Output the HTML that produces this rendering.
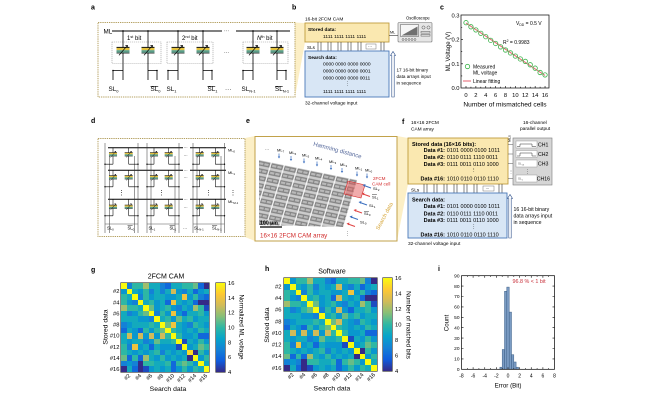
<!DOCTYPE html>
<html><head><meta charset="utf-8"><style>
body{margin:0;width:650px;height:400px;position:relative;background:#fff;overflow:hidden}
svg{position:absolute;left:0;top:0}
.hm{position:absolute;display:grid;grid-template-columns:repeat(16,1fr);grid-template-rows:repeat(16,1fr);box-shadow:0 0 0 .6px #333}
.hm i{display:block}
.a{background:#352a87}.b{background:#1c4bc0}.c{background:#1168db}.d{background:#1481d6}.e{background:#0997ce}.f{background:#13aabd}.g{background:#2eb7a4}.h{background:#69bc86}.i{background:#a0be6d}.j{background:#d1bb59}.k{background:#efc43f}.l{background:#fcd926}.m{background:#f9fb0e}
.cb{position:absolute;box-shadow:0 0 0 .6px #333;background:linear-gradient(to top,#352a87 0%,#0f5cdd 12.5%,#1481d6 25%,#06a4ca 37.5%,#2eb7a4 50%,#87bf77 62.5%,#d1bb59 75%,#fec832 87.5%,#f9fb0e 100%)}
</style></head><body>
<svg xmlns="http://www.w3.org/2000/svg" width="650" height="400" viewBox="0 0 650 400" font-family="'Liberation Sans', Arial, sans-serif">
<defs>
<g id="tr">
<rect x="-6.5" y="-3.6" width="13" height="1" fill="#000"/>
<rect x="-6.5" y="-2.6" width="13" height="2.3" fill="#e4c23e"/>
<rect x="-6.5" y="-0.3" width="13" height="2.6" fill="#5a9d88"/>
<rect x="-6.5" y="2.3" width="13" height=".6" fill="#000"/>
<path d="M-4 4.8L4.5-5.2M4.5-5.2h-2.2M4.5-5.2v2" stroke="#000" stroke-width=".7" fill="none"/>
</g>
<pattern id="chip" patternUnits="userSpaceOnUse" width="1" height="1" patternTransform="matrix(13 2.65 -2.1 7 259 160)">
<rect width="1" height="1" fill="#cccccc"/>
<rect y=".1" width="1" height=".65" fill="#838383"/>
<rect x=".08" y=".27" width=".32" height=".3" fill="#bababa"/>
<rect x=".48" y=".27" width=".32" height=".3" fill="#bababa"/>
<rect x=".9" y="0" width=".1" height="1" fill="#f5f5f5"/>
</pattern>
</defs>

<!-- ===== Panel a ===== -->
<polygon points="295,22.5 305,23 305,42 295,97" fill="#fcefc6"/>
<text x="91" y="9.5" font-size="7" font-weight="bold">a</text>
<rect x="98" y="22.5" width="197" height="74.5" fill="#fff" stroke="#b4a060" stroke-width="1" stroke-dasharray="1.3 0.9"/>
<g fill="none" stroke="#999" stroke-width=".6" stroke-dasharray="1.2 .8">
<rect x="112" y="42" width="49" height="21.5"/><rect x="167" y="42" width="46" height="21.5"/><rect x="243" y="42" width="45" height="21.5"/>
</g>
<g stroke="#000" fill="none" stroke-width=".8">
<path d="M112 31H222M236 31H290" stroke-width="1.1"/>
<path d="M123 31V80M148 31V80M178 31V80M203 31V80M253 31V80M277 31V80"/>
<path d="M113 70.5V80M157 70.5V80M168 70.5V80M212 70.5V80M243 70.5V80M286 70.5V80"/>
<path d="M113 70.5H123M148 70.5H157M168 70.5H178M203 70.5H212M243 70.5H253M277 70.5H286"/>
</g>
<g fill="#000">
<circle cx="123" cy="31" r=".9"/><circle cx="148" cy="31" r=".9"/><circle cx="178" cy="31" r=".9"/><circle cx="203" cy="31" r=".9"/><circle cx="253" cy="31" r=".9"/><circle cx="277" cy="31" r=".9"/>
<circle cx="113" cy="70.5" r=".8"/><circle cx="157" cy="70.5" r=".8"/><circle cx="168" cy="70.5" r=".8"/><circle cx="212" cy="70.5" r=".8"/><circle cx="243" cy="70.5" r=".8"/><circle cx="286" cy="70.5" r=".8"/>
</g>
<use href="#tr" x="123" y="50.5"/><use href="#tr" x="148" y="50.5"/><use href="#tr" x="178" y="50.5"/><use href="#tr" x="203" y="50.5"/><use href="#tr" x="253" y="50.5"/><use href="#tr" x="277" y="50.5"/>
<text x="103.5" y="33.5" font-size="6.3">ML</text>
<text x="224" y="32.5" font-size="5">···</text>
<text x="224" y="54" font-size="5">···</text>
<text x="127" y="39.8" font-size="6">1<tspan font-size="3.8" dy="-2">st</tspan><tspan dy="2"> bit</tspan></text>
<text x="182" y="39.8" font-size="6">2<tspan font-size="3.8" dy="-2">nd</tspan><tspan dy="2"> bit</tspan></text>
<text x="257" y="39.8" font-size="6"><tspan font-style="italic">N</tspan><tspan font-size="3.8" dy="-2">th</tspan><tspan dy="2"> bit</tspan></text>
<g font-size="6.3">
<text x="108.5" y="91">SL<tspan font-size="4" dy="1.3">0</tspan></text>
<text x="150.5" y="91"><tspan text-decoration="overline">SL</tspan><tspan font-size="4" dy="1.3">0</tspan></text>
<text x="166.5" y="91">SL<tspan font-size="4" dy="1.3">1</tspan></text>
<text x="207.5" y="91"><tspan text-decoration="overline">SL</tspan><tspan font-size="4" dy="1.3">1</tspan></text>
<text x="225" y="91">···</text>
<text x="241.5" y="91">SL<tspan font-size="4" dy="1.3">N-1</tspan></text>
<text x="275" y="91"><tspan text-decoration="overline">SL</tspan><tspan font-size="4" dy="1.3">N-1</tspan></text>
</g>

<!-- ===== Panel b ===== -->
<text x="292" y="9.5" font-size="7" font-weight="bold">b</text>
<text x="305" y="20.5" font-size="4.8">16-bit 2FCM CAM</text>
<rect x="305" y="23" width="84" height="19" fill="#fae8b0" stroke="#bf9d3e" stroke-width=".9"/>
<text x="308" y="30.8" font-size="4.8" font-weight="bold">Stored data:</text>
<text x="323" y="38" font-size="4.9">1111 1111 1111 1111</text>
<text x="307" y="48.8" font-size="4.6">SLs</text>
<path d="M318 42V51M321 42V51M328 42V51M331 42V51M338 42V51M341 42V51M348 42V51M351 42V51M358 42V51M361 42V51M381 42V51M384 42V51" stroke="#333" stroke-width=".6"/>
<rect x="366" y="44" width="10" height="5" fill="#fff" stroke="#555" stroke-width=".4"/><text x="368" y="47.8" font-size="4">···</text>
<rect x="305" y="51" width="84" height="46" fill="#d8e6f5" stroke="#4a79b9" stroke-width=".9"/>
<text x="308" y="58.8" font-size="4.8" font-weight="bold">Search data:</text>
<g font-size="4.9">
<text x="323" y="65.5">0000 0000 0000 0000</text>
<text x="323" y="72.5">0000 0000 0000 0001</text>
<text x="323" y="79.5">0000 0000 0000 0011</text>
<text x="345" y="85">⋮</text>
<text x="323" y="93">1111 1111 1111 1111</text>
</g>
<path d="M391.8 97V55.5h-1.3l2.5-4 2.5 4h-1.3V97z" fill="#fff" stroke="#2d4f8a" stroke-width=".6"/>
<g font-size="4.6"><text x="396.5" y="71.5">17 16-bit binary</text><text x="396.5" y="78">data arrays input</text><text x="396.5" y="84.5">in sequence</text></g>
<text x="305" y="104.5" font-size="4.8">32-channel voltage input</text>
<text x="406" y="19.5" font-size="4.2">Oscilloscope</text>
<rect x="398" y="22.5" width="34" height="19.5" rx="1" fill="#e6e6e6" stroke="#6d6d6d" stroke-width=".6"/>
<rect x="400.5" y="24.5" width="18" height="12" fill="#f6f6f6" stroke="#555" stroke-width=".5"/>
<polygon points="401.5,35.5 417.5,35.5 417.5,26.5" fill="#707070"/>
<g fill="none" stroke="#555" stroke-width=".5">
<circle cx="423.5" cy="27.5" r="1.6"/><circle cx="428.5" cy="27.5" r="1.6"/>
<rect x="421" y="31.5" width="9" height="1.6"/><rect x="421" y="34.5" width="9" height="1.6"/>
<circle cx="403" cy="39.5" r="1"/><circle cx="406" cy="39.5" r="1"/><circle cx="409" cy="39.5" r="1"/><circle cx="412" cy="39.5" r="1"/><circle cx="415" cy="39.5" r="1"/>
</g>
<text x="390" y="33.5" font-size="3.8">ML</text>
<path d="M389 35.5H398" stroke="#333" stroke-width=".6"/>

<!-- ===== Panel c ===== -->
<text x="440" y="9.5" font-size="7" font-weight="bold">c</text>
<rect x="461" y="15" width="88" height="73" fill="none" stroke="#000" stroke-width=".7"/>
<path d="M466 88v-2M475.88 88v-2M485.76 88v-2M495.64 88v-2M505.52 88v-2M515.4 88v-2M525.28 88v-2M535.16 88v-2M545.04 88v-2M470.94 88v-1.2M480.82 88v-1.2M490.7 88v-1.2M500.58 88v-1.2M510.46 88v-1.2M520.34 88v-1.2M530.22 88v-1.2M540.1 88v-1.2M461 63.8h2M461 39.6h2M461 75.9h1.2M461 51.7h1.2M461 27.5h1.2" stroke="#000" stroke-width=".6"/>
<g font-size="5.8" text-anchor="end"><text x="459.5" y="17.5">0.3</text><text x="459.5" y="41.6">0.2</text><text x="459.5" y="65.8">0.1</text><text x="459.5" y="90">0.0</text></g>
<g font-size="5.8" text-anchor="middle"><text x="466" y="96.8">0</text><text x="475.88" y="96.8">2</text><text x="485.76" y="96.8">4</text><text x="495.64" y="96.8">6</text><text x="505.52" y="96.8">8</text><text x="515.4" y="96.8">10</text><text x="525.28" y="96.8">12</text><text x="535.16" y="96.8">14</text><text x="545.04" y="96.8">16</text></g>
<text x="505" y="106.5" font-size="6.6" text-anchor="middle">Number of mismatched cells</text>
<text transform="translate(450,51.5) rotate(-90)" font-size="6" text-anchor="middle">ML Voltage (V)</text>
<text x="516" y="25" font-size="5">V<tspan font-size="3.4" dy="1.2">DD</tspan><tspan dy="-1.2"> = 0.5 V</tspan></text>
<text x="503" y="44" font-size="5">R<tspan font-size="3.4" dy="-1.8">2</tspan><tspan dy="1.8"> = 0.9983</tspan></text>
<line x1="466" y1="23.1" x2="545" y2="75.4" stroke="#e8707c" stroke-width="1.1"/>
<g fill="none" stroke="#3cb44b" stroke-width=".8">
<circle cx="466" cy="22.66" r="2.2"/><circle cx="470.94" cy="26.77" r="2.2"/><circle cx="475.88" cy="29.92" r="2.2"/><circle cx="480.82" cy="33.31" r="2.2"/><circle cx="485.76" cy="36.7" r="2.2"/><circle cx="490.7" cy="40.33" r="2.2"/><circle cx="495.64" cy="43.47" r="2.2"/><circle cx="500.58" cy="46.86" r="2.2"/><circle cx="505.52" cy="50.01" r="2.2"/><circle cx="510.46" cy="52.91" r="2.2"/><circle cx="515.4" cy="56.06" r="2.2"/><circle cx="520.34" cy="58.96" r="2.2"/><circle cx="525.28" cy="61.38" r="2.2"/><circle cx="530.22" cy="64.77" r="2.2"/><circle cx="535.16" cy="68.16" r="2.2"/><circle cx="540.1" cy="72.51" r="2.2"/><circle cx="545.04" cy="74.93" r="2.2"/>
<circle cx="467.5" cy="66.5" r="2.2"/>
</g>
<line x1="463" y1="81" x2="471" y2="81" stroke="#e8707c" stroke-width="1.1"/>
<g font-size="5"><text x="473" y="68.3">Measured</text><text x="473" y="74.3">ML voltage</text><text x="473" y="82.8">Linear fitting</text></g>

<!-- ===== Panel d ===== -->
<polygon points="245,138 255,136 255,241 245,237" fill="#fcefc6"/>
<text x="91" y="123" font-size="7" font-weight="bold">d</text>
<rect x="98" y="138.5" width="147" height="98" fill="#fff" stroke="#b4a060" stroke-width="1" stroke-dasharray="1.3 .9"/>
<g stroke="#000" fill="none">
<path d="M108 147.7H183M190 147.7H226M108 170.3H183M190 170.3H226M108 199.3H183M190 199.3H226" stroke-width="1"/>
<path d="M105 143V233M109.5 156V233M134.5 156V233M138 143V233M147 143V233M151 156V233M175 156V233M179 143V233M193 143V233M197 156V233M221 156V233M224.5 143V233" stroke-width=".5" stroke="#333"/>
<path d="M113 147.7v16.5M128.7 147.7v16.5M154 147.7v16.5M168.7 147.7v16.5M199.7 147.7v16.5M215.3 147.7v16.5M113 170.3v16.5M128.7 170.3v16.5M154 170.3v16.5M168.7 170.3v16.5M199.7 170.3v16.5M215.3 170.3v16.5M113 199.3v16.5M128.7 199.3v16.5M154 199.3v16.5M168.7 199.3v16.5M199.7 199.3v16.5M215.3 199.3v16.5" stroke-width=".55"/>
<path d="M105 164.2H113M128.7 164.2H138M147 164.2H154M168.7 164.2H179M193 164.2H199.7M215.3 164.2H224.5M105 186.8H113M128.7 186.8H138M147 186.8H154M168.7 186.8H179M193 186.8H199.7M215.3 186.8H224.5M105 215.8H113M128.7 215.8H138M147 215.8H154M168.7 215.8H179M193 215.8H199.7M215.3 215.8H224.5" stroke-width=".55"/>
<path d="M105 224H138M147 224H179M193 224H224.5" stroke-width=".5" stroke="#555"/>
</g>
<g fill="#000">
<circle cx="105" cy="164.2" r=".7"/><circle cx="138" cy="164.2" r=".7"/><circle cx="147" cy="164.2" r=".7"/><circle cx="179" cy="164.2" r=".7"/><circle cx="193" cy="164.2" r=".7"/><circle cx="224.5" cy="164.2" r=".7"/>
<circle cx="105" cy="186.8" r=".7"/><circle cx="138" cy="186.8" r=".7"/><circle cx="147" cy="186.8" r=".7"/><circle cx="179" cy="186.8" r=".7"/><circle cx="193" cy="186.8" r=".7"/><circle cx="224.5" cy="186.8" r=".7"/>
<circle cx="105" cy="215.8" r=".7"/><circle cx="138" cy="215.8" r=".7"/><circle cx="147" cy="215.8" r=".7"/><circle cx="179" cy="215.8" r=".7"/><circle cx="193" cy="215.8" r=".7"/><circle cx="224.5" cy="215.8" r=".7"/>
</g>
<g transform="translate(113,154.5) scale(.62)"><use href="#tr"/></g><g transform="translate(128.7,154.5) scale(.62)"><use href="#tr"/></g>
<g transform="translate(154,154.5) scale(.62)"><use href="#tr"/></g><g transform="translate(168.7,154.5) scale(.62)"><use href="#tr"/></g>
<g transform="translate(199.7,154.5) scale(.62)"><use href="#tr"/></g><g transform="translate(215.3,154.5) scale(.62)"><use href="#tr"/></g>
<g transform="translate(113,177.5) scale(.62)"><use href="#tr"/></g><g transform="translate(128.7,177.5) scale(.62)"><use href="#tr"/></g>
<g transform="translate(154,177.5) scale(.62)"><use href="#tr"/></g><g transform="translate(168.7,177.5) scale(.62)"><use href="#tr"/></g>
<g transform="translate(199.7,177.5) scale(.62)"><use href="#tr"/></g><g transform="translate(215.3,177.5) scale(.62)"><use href="#tr"/></g>
<g transform="translate(113,207) scale(.62)"><use href="#tr"/></g><g transform="translate(128.7,207) scale(.62)"><use href="#tr"/></g>
<g transform="translate(154,207) scale(.62)"><use href="#tr"/></g><g transform="translate(168.7,207) scale(.62)"><use href="#tr"/></g>
<g transform="translate(199.7,207) scale(.62)"><use href="#tr"/></g><g transform="translate(215.3,207) scale(.62)"><use href="#tr"/></g>
<g font-size="4.2"><text x="183.5" y="149">···</text><text x="183.5" y="171.6">···</text><text x="183.5" y="200.6">···</text><text x="183.5" y="156.5">···</text><text x="183.5" y="179">···</text><text x="183.5" y="208.5">···</text></g>
<g font-size="3.9"><text x="228" y="151.5">ML<tspan font-size="2.8" dy="1">0</tspan></text><text x="228" y="174">ML<tspan font-size="2.8" dy="1">1</tspan></text><text x="228" y="203">ML<tspan font-size="2.8" dy="1">M-1</tspan></text></g>
<g font-size="6"><text x="118.5" y="194.5">⋮</text><text x="158.5" y="194.5">⋮</text><text x="205.5" y="194.5">⋮</text><text x="230" y="194.5">⋮</text></g>
<g font-size="4.2">
<text x="107" y="229.5">SL<tspan font-size="2.9" dy="1">0</tspan></text>
<text x="127.5" y="229.5"><tspan text-decoration="overline">SL</tspan><tspan font-size="2.9" dy="1">0</tspan></text>
<text x="148.5" y="229.5">SL<tspan font-size="2.9" dy="1">1</tspan></text>
<text x="169.5" y="229.5"><tspan text-decoration="overline">SL</tspan><tspan font-size="2.9" dy="1">1</tspan></text>
<text x="183" y="229.5">···</text>
<text x="194" y="229.5">SL<tspan font-size="2.9" dy="1">N-1</tspan></text>
<text x="212" y="229.5"><tspan text-decoration="overline">SL</tspan><tspan font-size="2.9" dy="1">N-1</tspan></text>
</g>

<!-- ===== Panel e ===== -->
<polygon points="397,136 408,138 408,184 397,241" fill="#fcefc6"/>
<text x="246" y="123" font-size="7" font-weight="bold">e</text>
<rect x="255" y="136.5" width="142" height="104.5" fill="#fff" stroke="#c2a24a" stroke-width="1"/>
<polygon points="259,160 357,180 343,227 259,225" fill="url(#chip)"/>
<polygon points="348,181 365,185 361,198 344,194" fill="#e45858" fill-opacity=".5" stroke="#d42c2c" stroke-width=".6"/>
<text transform="translate(337,152) rotate(15)" font-size="6" fill="#56699c" text-anchor="middle">Hamming distance</text>
<g font-size="4">
<text x="265" y="151">···</text>
<text x="277" y="151.5">ML<tspan font-size="2.8" dy="1">7</tspan></text>
<text x="289" y="154">ML<tspan font-size="2.8" dy="1">6</tspan></text>
<text x="302" y="156.5">ML<tspan font-size="2.8" dy="1">5</tspan></text>
<text x="315" y="159.5">ML<tspan font-size="2.8" dy="1">4</tspan></text>
<text x="329" y="163">ML<tspan font-size="2.8" dy="1">3</tspan></text>
<text x="340" y="166">ML<tspan font-size="2.8" dy="1">2</tspan></text>
<text x="355" y="169.5">ML<tspan font-size="2.8" dy="1">1</tspan></text>
<text x="365" y="171.5">ML<tspan font-size="2.8" dy="1">0</tspan></text>
</g>
<g stroke="#3b6fc0" stroke-width=".7">
<path d="M279 153.5v3.5M291 156v3.5M304 158.5v3.5M317 161.5v3.5M331 165v3.5M342 168v3.5M357 171.5v3.5M367 173.5v3.5"/>
</g>
<g fill="#3b6fc0">
<polygon points="277.8,156.5 280.2,156.5 279,158.5"/><polygon points="289.8,159 292.2,159 291,161"/><polygon points="302.8,161.5 305.2,161.5 304,163.5"/><polygon points="315.8,164.5 318.2,164.5 317,166.5"/><polygon points="329.8,168 332.2,168 331,170"/><polygon points="340.8,171 343.2,171 342,173"/><polygon points="355.8,174.5 358.2,174.5 357,176.5"/><polygon points="365.8,176.5 368.2,176.5 367,178.5"/>
</g>
<g stroke-width="1">
<path d="M371 188L364 185.5" stroke="#3b6fc0"/><path d="M370 196.5L363 194" stroke="#e04444"/><path d="M367 205L360 202.5" stroke="#3b6fc0"/><path d="M362 213L355 210.5" stroke="#e04444"/><path d="M358 219.5L351 217" stroke="#3b6fc0"/><path d="M355 226.5L348 224" stroke="#e04444"/>
</g>
<g>
<polygon points="362.5,185 365.5,184 364.7,186.8" fill="#3b6fc0"/><polygon points="361.5,193.5 364.5,192.5 363.7,195.3" fill="#e04444"/><polygon points="358.5,202 361.5,201 360.7,203.8" fill="#3b6fc0"/><polygon points="353.5,210 356.5,209 355.7,211.8" fill="#e04444"/><polygon points="349.5,216.5 352.5,215.5 351.7,218.3" fill="#3b6fc0"/><polygon points="346.5,223.5 349.5,222.5 348.7,225.3" fill="#e04444"/>
</g>
<g font-size="4">
<text x="373" y="190">SL<tspan font-size="2.8" dy="1">2</tspan></text>
<text x="372" y="198.5"><tspan text-decoration="overline">SL</tspan><tspan font-size="2.8" dy="1">1</tspan></text>
<text x="369" y="207"><tspan>SL</tspan><tspan font-size="2.8" dy="1">1</tspan></text>
<text x="364" y="215"><tspan text-decoration="overline">SL</tspan><tspan font-size="2.8" dy="1">0</tspan></text>
<text x="360" y="223.5">SL<tspan font-size="2.8" dy="1">0</tspan></text>
</g>
<text x="373" y="180" font-size="4.6" fill="#d42c2c">2FCM</text>
<text x="372" y="185.7" font-size="4.6" fill="#d42c2c">CAM cell</text>
<text transform="translate(386,217) rotate(-62)" font-size="5.6" fill="#d6a536" text-anchor="middle">Search data</text>
<text x="345" y="235" font-size="5">⋮</text>
<text x="260" y="224.5" font-size="5.2" font-weight="bold">100 μm</text>
<path d="M260 227H282" stroke="#000" stroke-width="1.3"/>
<text x="260" y="237.5" font-size="6.2" fill="#d02a2a">16×16 2FCM CAM array</text>

<!-- ===== Panel f ===== -->
<text x="402" y="124" font-size="7" font-weight="bold">f</text>
<text x="411" y="124" font-size="4.8">16×16 2FCM</text>
<text x="411" y="130.5" font-size="4.8">CAM array</text>
<text x="523" y="124" font-size="4.8">16-channel</text>
<text x="520" y="130" font-size="4.8">parallel output</text>
<text transform="translate(510.5,142) rotate(-90)" font-size="3.6">MLs</text>
<rect x="408" y="138" width="100" height="46" fill="#fae8b0" stroke="#bf9d3e" stroke-width=".9"/>
<text x="412" y="145.8" font-size="5.5" font-weight="bold">Stored data (16×16 bits):</text>
<g font-size="5.5">
<text x="445" y="152.2" text-anchor="end" font-weight="bold">Data #1:</text><text x="446.8" y="152.2">0101 0000 0100 1011</text>
<text x="445" y="158.9" text-anchor="end" font-weight="bold">Data #2:</text><text x="446.8" y="158.9">0110 0111 1110 0011</text>
<text x="445" y="166" text-anchor="end" font-weight="bold">Data #3:</text><text x="446.8" y="166">0111 0011 0110 1000</text>
<text x="471" y="172">⋮</text>
<text x="445" y="180.5" text-anchor="end" font-weight="bold">Data #16:</text><text x="446.8" y="180.5">1010 0110 0110 1110</text>
</g>
<path d="M508 144.5H516M508 154H516M508 163.5H516M508 178.5H516" stroke="#555" stroke-width=".6"/>
<rect x="513" y="138" width="39" height="47" fill="#d6d6d6" stroke="#7a7a7a" stroke-width=".6"/>
<g fill="#fff" stroke="#888" stroke-width=".4">
<rect x="516" y="141" width="21" height="7"/><rect x="516" y="150.5" width="21" height="7"/><rect x="516" y="160" width="21" height="7"/><rect x="516" y="175" width="21" height="7"/>
</g>
<path d="M517 146.5h3v-2.5h12v2.5h4M517 156h3v-3h12v3h4" stroke="#333" stroke-width=".5" fill="none"/>
<g font-size="3" fill="#555"><text x="518" y="164.5">SL<tspan font-size="2.2" dy=".8">13</tspan></text><text x="518" y="179.5">SL<tspan font-size="2.2" dy=".8">1</tspan></text></g>
<g font-size="5.2"><text x="538" y="146.5">CH1</text><text x="538" y="156">CH2</text><text x="538" y="165.5">CH3</text><text x="536.8" y="180.7">CH16</text><text x="525" y="173">⋮</text></g>
<text x="509" y="173" font-size="4">⋮</text>
<text x="411" y="191.3" font-size="4.8">SLs</text>
<path d="M424 184V193M427 184V193M434 184V193M437 184V193M444 184V193M447 184V193M454 184V193M457 184V193M464 184V193M467 184V193M474 184V193M477 184V193M499 184V193M502 184V193" stroke="#333" stroke-width=".6"/>
<rect x="483" y="186" width="11" height="5" fill="#fff" stroke="#555" stroke-width=".4"/><text x="485.5" y="189.8" font-size="4">···</text>
<rect x="408" y="193" width="99" height="45" fill="#d8e6f5" stroke="#4a79b9" stroke-width=".9"/>
<text x="412" y="201.5" font-size="5.5" font-weight="bold">Search data:</text>
<g font-size="5.5">
<text x="445" y="208.2" text-anchor="end" font-weight="bold">Data #1:</text><text x="446.8" y="208.2">0101 0000 0100 1011</text>
<text x="445" y="215.3" text-anchor="end" font-weight="bold">Data #2:</text><text x="446.8" y="215.3">0110 0111 1110 0011</text>
<text x="445" y="222" text-anchor="end" font-weight="bold">Data #3:</text><text x="446.8" y="222">0111 0011 0110 1000</text>
<text x="471" y="228.3">⋮</text>
<text x="445" y="236.3" text-anchor="end" font-weight="bold">Data #16:</text><text x="446.8" y="236.3">1010 0110 0110 1110</text>
</g>
<path d="M508.8 238V198.5h-1.3l2.5-4 2.5 4h-1.3V238z" fill="#fff" stroke="#2d4f8a" stroke-width=".6"/>
<g font-size="5.2"><text x="513.5" y="211">16 16-bit binary</text><text x="513.5" y="217.5">data arrays input</text><text x="513.5" y="224">in sequence</text></g>
<text x="408" y="245" font-size="4.8">32-channel voltage input</text>

<!-- ===== Panel g ===== -->
<text x="91" y="272" font-size="7" font-weight="bold">g</text>
<text x="166" y="278.5" font-size="7" text-anchor="middle">2FCM CAM</text>
<g font-size="5.8" text-anchor="end">
<text x="119.5" y="293.1">#2</text><text x="119.5" y="304.3">#4</text><text x="119.5" y="315.4">#6</text><text x="119.5" y="326.5">#8</text><text x="119.5" y="337.7">#10</text><text x="119.5" y="348.8">#12</text><text x="119.5" y="360">#14</text><text x="119.5" y="371.1">#16</text>
</g>
<g font-size="5.6" text-anchor="end">
<text transform="translate(130.7,376) rotate(-45)">#2</text><text transform="translate(141.7,376) rotate(-45)">#4</text><text transform="translate(152.7,376) rotate(-45)">#6</text><text transform="translate(163.7,376) rotate(-45)">#8</text><text transform="translate(174.7,376) rotate(-45)">#10</text><text transform="translate(185.7,376) rotate(-45)">#12</text><text transform="translate(196.7,376) rotate(-45)">#14</text><text transform="translate(207.7,376) rotate(-45)">#16</text>
</g>
<text x="168" y="391" font-size="6.8" text-anchor="middle">Search data</text>
<text transform="translate(107.5,327) rotate(-90)" font-size="6.8" text-anchor="middle">Stored data</text>
<g font-size="5.8"><text x="228" y="285">16</text><text x="228" y="299.8">14</text><text x="228" y="314.7">12</text><text x="228" y="329.5">10</text><text x="228" y="344.3">8</text><text x="228" y="359.2">6</text><text x="228" y="374">4</text></g>
<text transform="translate(239.5,327) rotate(90)" font-size="6.4" text-anchor="middle">Normalized ML voltage</text>

<!-- ===== Panel h ===== -->
<text x="265" y="271" font-size="7" font-weight="bold">h</text>
<text x="332" y="273.5" font-size="7" text-anchor="middle">Software</text>
<g font-size="5.8" text-anchor="end">
<text x="281.5" y="288.5">#2</text><text x="281.5" y="300.1">#4</text><text x="281.5" y="311.7">#6</text><text x="281.5" y="323.4">#8</text><text x="281.5" y="335">#10</text><text x="281.5" y="346.6">#12</text><text x="281.5" y="358.2">#14</text><text x="281.5" y="369.9">#16</text>
</g>
<g font-size="5.6" text-anchor="end">
<text transform="translate(294.2,375) rotate(-45)">#2</text><text transform="translate(305.8,375) rotate(-45)">#4</text><text transform="translate(317.4,375) rotate(-45)">#6</text><text transform="translate(329.1,375) rotate(-45)">#8</text><text transform="translate(340.7,375) rotate(-45)">#10</text><text transform="translate(352.3,375) rotate(-45)">#12</text><text transform="translate(363.9,375) rotate(-45)">#14</text><text transform="translate(375.6,375) rotate(-45)">#16</text>
</g>
<text x="332" y="390.5" font-size="6.8" text-anchor="middle">Search data</text>
<text transform="translate(269,325) rotate(-90)" font-size="6.8" text-anchor="middle">Stored data</text>
<g font-size="5.8"><text x="395" y="280">16</text><text x="395" y="295.5">14</text><text x="395" y="311">12</text><text x="395" y="326.5">10</text><text x="395" y="342">8</text><text x="395" y="357.5">6</text><text x="395" y="373">4</text></g>
<text transform="translate(406.5,325) rotate(90)" font-size="6.4" text-anchor="middle">Number of matched bits</text>

<!-- ===== Panel i ===== -->
<text x="438" y="271" font-size="7" font-weight="bold">i</text>
<g fill="#7b9cc4" stroke="#3d5f86" stroke-width=".5">
<rect x="499.9" y="367.2" width="2.3" height="2.1"/>
<rect x="502.2" y="349.5" width="2.3" height="19.8"/>
<rect x="504.5" y="291.3" width="2.3" height="78"/>
<rect x="506.8" y="287.1" width="2.4" height="82.2"/>
<rect x="509.2" y="312.1" width="2.3" height="57.2"/>
<rect x="511.5" y="354.7" width="2.3" height="14.6"/>
<rect x="513.8" y="362" width="2.3" height="7.3"/>
<rect x="516.1" y="367.2" width="2.4" height="2.1"/>
</g>
<rect x="461.5" y="275.7" width="93" height="93.6" fill="none" stroke="#000" stroke-width=".7"/>
<path d="M473.1 369.3v-2M484.75 369.3v-2M496.4 369.3v-2M508 369.3v-2M519.6 369.3v-2M531.25 369.3v-2M542.9 369.3v-2M467.3 369.3v-1.2M478.9 369.3v-1.2M490.6 369.3v-1.2M502.2 369.3v-1.2M513.8 369.3v-1.2M525.4 369.3v-1.2M537.1 369.3v-1.2M548.7 369.3v-1.2M473.1 275.7v2M484.75 275.7v2M496.4 275.7v2M508 275.7v2M519.6 275.7v2M531.25 275.7v2M542.9 275.7v2M467.3 275.7v1.2M478.9 275.7v1.2M490.6 275.7v1.2M502.2 275.7v1.2M513.8 275.7v1.2M525.4 275.7v1.2M537.1 275.7v1.2M548.7 275.7v1.2M461.5 358.9h2M461.5 348.5h2M461.5 338.1h2M461.5 327.7h2M461.5 317.3h2M461.5 306.9h2M461.5 296.5h2M461.5 286.1h2M554.5 358.9h-2M554.5 348.5h-2M554.5 338.1h-2M554.5 327.7h-2M554.5 317.3h-2M554.5 306.9h-2M554.5 296.5h-2M554.5 286.1h-2" stroke="#000" stroke-width=".6"/>
<g font-size="4.8" text-anchor="end"><text x="459.5" y="371">0</text><text x="459.5" y="360.6">10</text><text x="459.5" y="350.2">20</text><text x="459.5" y="339.8">30</text><text x="459.5" y="329.4">40</text><text x="459.5" y="319">50</text><text x="459.5" y="308.6">60</text><text x="459.5" y="298.2">70</text><text x="459.5" y="287.8">80</text><text x="459.5" y="277.4">90</text></g>
<g font-size="5" text-anchor="middle"><text x="461.5" y="377.5">-8</text><text x="473.1" y="377.5">-6</text><text x="484.75" y="377.5">-4</text><text x="496.4" y="377.5">-2</text><text x="508" y="377.5">0</text><text x="519.6" y="377.5">2</text><text x="531.25" y="377.5">4</text><text x="542.9" y="377.5">6</text><text x="554.5" y="377.5">8</text></g>
<text x="508" y="387.5" font-size="6.2" text-anchor="middle">Error (Bit)</text>
<text transform="translate(448.5,323) rotate(-90)" font-size="6.2" text-anchor="middle">Count</text>
<text x="512.5" y="282.8" font-size="5.4" fill="#c8303a">96.8 % &lt; 1 bit</text>
</svg>

<div class="hm" style="left:121px;top:283px;width:88px;height:89px">
<i class=m></i><i class=d></i><i class=g></i><i class=g></i><i class=i></i><i class=f></i><i class=f></i><i class=d></i><i class=c></i><i class=f></i><i class=f></i><i class=g></i><i class=g></i><i class=h></i><i class=c></i><i class=a></i>
<i class=e></i><i class=m></i><i class=f></i><i class=e></i><i class=g></i><i class=d></i><i class=f></i><i class=d></i><i class=f></i><i class=j></i><i class=e></i><i class=d></i><i class=f></i><i class=c></i><i class=e></i><i class=f></i>
<i class=g></i><i class=f></i><i class=m></i><i class=d></i><i class=g></i><i class=e></i><i class=f></i><i class=f></i><i class=e></i><i class=e></i><i class=f></i><i class=k></i><i class=e></i><i class=g></i><i class=d></i><i class=c></i>
<i class=g></i><i class=e></i><i class=d></i><i class=m></i><i class=f></i><i class=g></i><i class=e></i><i class=f></i><i class=c></i><i class=k></i><i class=f></i><i class=e></i><i class=f></i><i class=c></i><i class=a></i><i class=a></i>
<i class=i></i><i class=g></i><i class=g></i><i class=f></i><i class=m></i><i class=h></i><i class=e></i><i class=f></i><i class=g></i><i class=e></i><i class=d></i><i class=f></i><i class=e></i><i class=i></i><i class=g></i><i class=b></i>
<i class=f></i><i class=d></i><i class=e></i><i class=g></i><i class=h></i><i class=m></i><i class=d></i><i class=g></i><i class=e></i><i class=k></i><i class=e></i><i class=c></i><i class=f></i><i class=f></i><i class=g></i><i class=e></i>
<i class=f></i><i class=f></i><i class=f></i><i class=e></i><i class=e></i><i class=d></i><i class=m></i><i class=f></i><i class=g></i><i class=e></i><i class=h></i><i class=f></i><i class=g></i><i class=e></i><i class=f></i><i class=f></i>
<i class=d></i><i class=e></i><i class=f></i><i class=f></i><i class=f></i><i class=g></i><i class=f></i><i class=m></i><i class=h></i><i class=k></i><i class=f></i><i class=e></i><i class=d></i><i class=g></i><i class=f></i><i class=e></i>
<i class=c></i><i class=f></i><i class=e></i><i class=c></i><i class=g></i><i class=e></i><i class=g></i><i class=h></i><i class=m></i><i class=g></i><i class=f></i><i class=e></i><i class=f></i><i class=e></i><i class=g></i><i class=f></i>
<i class=f></i><i class=j></i><i class=e></i><i class=j></i><i class=e></i><i class=j></i><i class=e></i><i class=j></i><i class=g></i><i class=m></i><i class=g></i><i class=e></i><i class=e></i><i class=f></i><i class=c></i><i class=c></i>
<i class=f></i><i class=e></i><i class=f></i><i class=f></i><i class=d></i><i class=e></i><i class=h></i><i class=f></i><i class=f></i><i class=g></i><i class=m></i><i class=b></i><i class=f></i><i class=e></i><i class=g></i><i class=e></i>
<i class=g></i><i class=d></i><i class=k></i><i class=e></i><i class=f></i><i class=c></i><i class=f></i><i class=e></i><i class=e></i><i class=e></i><i class=b></i><i class=m></i><i class=e></i><i class=f></i><i class=h></i><i class=g></i>
<i class=g></i><i class=f></i><i class=e></i><i class=f></i><i class=e></i><i class=f></i><i class=g></i><i class=d></i><i class=f></i><i class=e></i><i class=f></i><i class=e></i><i class=l></i><i class=a></i><i class=g></i><i class=e></i>
<i class=h></i><i class=c></i><i class=g></i><i class=c></i><i class=i></i><i class=f></i><i class=e></i><i class=g></i><i class=e></i><i class=f></i><i class=e></i><i class=f></i><i class=a></i><i class=m></i><i class=e></i><i class=g></i>
<i class=d></i><i class=e></i><i class=d></i><i class=a></i><i class=g></i><i class=g></i><i class=f></i><i class=f></i><i class=g></i><i class=c></i><i class=g></i><i class=h></i><i class=g></i><i class=e></i><i class=m></i><i class=f></i>
<i class=a></i><i class=f></i><i class=c></i><i class=a></i><i class=b></i><i class=e></i><i class=f></i><i class=e></i><i class=f></i><i class=c></i><i class=e></i><i class=g></i><i class=e></i><i class=g></i><i class=f></i><i class=m></i>
</div>
<div class="cb" style="left:216px;top:283px;width:9px;height:89px"></div>

<div class="hm" style="left:284px;top:278px;width:93px;height:93px">
<i class=m></i><i class=e></i><i class=g></i><i class=g></i><i class=i></i><i class=f></i><i class=f></i><i class=d></i><i class=c></i><i class=f></i><i class=f></i><i class=g></i><i class=g></i><i class=h></i><i class=d></i><i class=a></i>
<i class=e></i><i class=m></i><i class=f></i><i class=e></i><i class=g></i><i class=d></i><i class=f></i><i class=e></i><i class=f></i><i class=j></i><i class=e></i><i class=d></i><i class=f></i><i class=c></i><i class=e></i><i class=f></i>
<i class=g></i><i class=f></i><i class=m></i><i class=d></i><i class=g></i><i class=e></i><i class=f></i><i class=f></i><i class=e></i><i class=e></i><i class=f></i><i class=k></i><i class=e></i><i class=g></i><i class=d></i><i class=c></i>
<i class=g></i><i class=e></i><i class=d></i><i class=m></i><i class=f></i><i class=g></i><i class=e></i><i class=f></i><i class=c></i><i class=j></i><i class=f></i><i class=e></i><i class=f></i><i class=c></i><i class=a></i><i class=a></i>
<i class=i></i><i class=g></i><i class=g></i><i class=f></i><i class=m></i><i class=h></i><i class=e></i><i class=f></i><i class=g></i><i class=e></i><i class=d></i><i class=f></i><i class=e></i><i class=i></i><i class=g></i><i class=b></i>
<i class=f></i><i class=d></i><i class=e></i><i class=g></i><i class=h></i><i class=m></i><i class=d></i><i class=g></i><i class=e></i><i class=j></i><i class=e></i><i class=c></i><i class=f></i><i class=f></i><i class=g></i><i class=e></i>
<i class=f></i><i class=f></i><i class=f></i><i class=e></i><i class=e></i><i class=d></i><i class=m></i><i class=f></i><i class=g></i><i class=e></i><i class=h></i><i class=f></i><i class=g></i><i class=e></i><i class=f></i><i class=f></i>
<i class=d></i><i class=e></i><i class=f></i><i class=f></i><i class=f></i><i class=g></i><i class=f></i><i class=m></i><i class=h></i><i class=j></i><i class=f></i><i class=e></i><i class=d></i><i class=g></i><i class=f></i><i class=e></i>
<i class=c></i><i class=f></i><i class=e></i><i class=c></i><i class=g></i><i class=e></i><i class=g></i><i class=h></i><i class=m></i><i class=g></i><i class=f></i><i class=e></i><i class=f></i><i class=e></i><i class=g></i><i class=f></i>
<i class=f></i><i class=j></i><i class=e></i><i class=j></i><i class=e></i><i class=j></i><i class=e></i><i class=j></i><i class=g></i><i class=m></i><i class=g></i><i class=e></i><i class=e></i><i class=f></i><i class=c></i><i class=c></i>
<i class=f></i><i class=e></i><i class=f></i><i class=f></i><i class=d></i><i class=e></i><i class=h></i><i class=f></i><i class=f></i><i class=g></i><i class=m></i><i class=b></i><i class=f></i><i class=e></i><i class=g></i><i class=e></i>
<i class=g></i><i class=d></i><i class=k></i><i class=e></i><i class=f></i><i class=c></i><i class=f></i><i class=e></i><i class=e></i><i class=e></i><i class=b></i><i class=m></i><i class=e></i><i class=f></i><i class=h></i><i class=g></i>
<i class=g></i><i class=f></i><i class=e></i><i class=f></i><i class=e></i><i class=f></i><i class=g></i><i class=d></i><i class=f></i><i class=e></i><i class=f></i><i class=e></i><i class=m></i><i class=a></i><i class=g></i><i class=e></i>
<i class=h></i><i class=c></i><i class=g></i><i class=c></i><i class=i></i><i class=f></i><i class=e></i><i class=g></i><i class=e></i><i class=f></i><i class=e></i><i class=f></i><i class=a></i><i class=m></i><i class=e></i><i class=g></i>
<i class=d></i><i class=e></i><i class=d></i><i class=a></i><i class=g></i><i class=g></i><i class=f></i><i class=f></i><i class=g></i><i class=c></i><i class=g></i><i class=h></i><i class=g></i><i class=e></i><i class=m></i><i class=f></i>
<i class=a></i><i class=f></i><i class=c></i><i class=a></i><i class=b></i><i class=e></i><i class=f></i><i class=e></i><i class=f></i><i class=c></i><i class=e></i><i class=g></i><i class=e></i><i class=g></i><i class=f></i><i class=m></i>
</div>
<div class="cb" style="left:383px;top:278px;width:9px;height:93px"></div>
</body></html>
